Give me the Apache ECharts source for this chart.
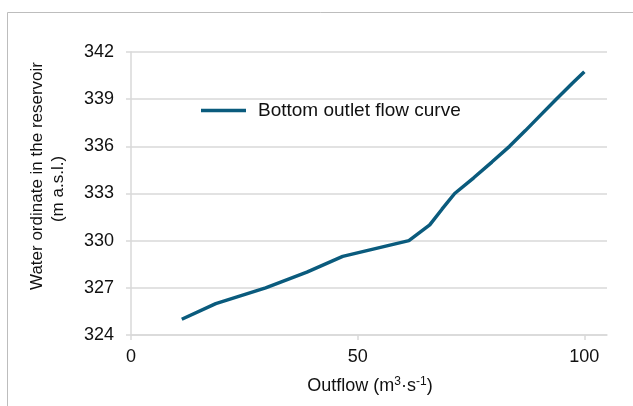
<!DOCTYPE html>
<html>
<head>
<meta charset="utf-8">
<script src="https://cdn.jsdelivr.net/npm/echarts@6/dist/echarts.min.js"></script>
<style>html,body{margin:0;padding:0;background:#fff}#c{width:633px;height:406px}</style>
</head>
<body>
<div id="c"></div>
<script>
const seriesName = 'Bottom outlet flow curve';
const outflow = [11.2, 18.7, 29.7, 38.8, 46.7, 61.3, 65.9, 68.6, 71.4, 75.6, 79.6, 83.5, 87.0, 90.4, 93.8, 97.3, 100.0];
const level   = [325, 326, 327, 328, 329, 330, 331, 332, 333, 334, 335, 336, 337, 338, 339, 340, 340.75];
const xTicks = [0, 50, 100];
const yTitle1 = 'Water ordinate in the reservoir';
const yTitle2 = '(m a.s.l.)';

const font = 'Liberation Sans, Arial, sans-serif';
const lineColor = '#0A5B7D';
const gridColor = '#d9d9d9';

const chart = echarts.init(document.getElementById('c'), null, {renderer: 'canvas'});
chart.setOption({
  animation: false,
  backgroundColor: '#fff',
  grid: {left: 131, top: 52, right: 26, bottom: 71, containLabel: false},
  legend: {
    left: 196, top: 96,
    itemWidth: 45, itemHeight: 3.5,
    textStyle: {fontFamily: font, fontSize: 19, color: '#111', padding: [0, 0, 0, 7]},
    data: [{name: seriesName, icon: 'rect', itemStyle: {color: lineColor}}]
  },
  xAxis: {
    type: 'value', min: 0, max: 105, interval: 50,
    axisLine: {show: true, lineStyle: {color: gridColor, width: 1.5}},
    axisTick: {show: true, length: 5, lineStyle: {color: gridColor, width: 1.5}, customValues: xTicks},
    axisLabel: {fontFamily: font, fontSize: 18, color: '#111', margin: 13, customValues: xTicks},
    splitLine: {show: false}
  },
  yAxis: {
    type: 'value', min: 324, max: 342, interval: 3,
    axisLine: {show: true, lineStyle: {color: gridColor, width: 1.5}},
    axisTick: {show: true, length: 5, lineStyle: {color: gridColor, width: 1.5}},
    axisLabel: {fontFamily: font, fontSize: 18, color: '#111', margin: 17},
    splitLine: {show: true, lineStyle: {color: gridColor, width: 1.5}}
  },
  series: [{
    name: seriesName,
    type: 'line',
    symbol: 'none',
    lineStyle: {color: lineColor, width: 3.5},
    itemStyle: {color: lineColor},
    data: outflow.map((x, i) => [x, level[i]])
  }],
  graphic: [
    {type: 'rect', shape: {x: 7.5, y: 12.5, width: 700, height: 500}, style: {fill: 'none', stroke: '#bdbdbd', lineWidth: 1}, silent: true, z: -1},
    {type: 'text', x: 37, y: 176, rotation: Math.PI / 2,
     style: {text: yTitle1, font: '17px ' + font, fill: '#111', align: 'center', verticalAlign: 'middle'}},
    {type: 'text', x: 58, y: 189, rotation: Math.PI / 2,
     style: {text: yTitle2, font: '17px ' + font, fill: '#111', align: 'center', verticalAlign: 'middle'}},
    {type: 'text', x: 370, y: 386,
     style: {
       text: '{a|Outflow (m}{s|3}{a|·s}{s|-1}{a|)}',
       align: 'center', verticalAlign: 'middle',
       rich: {
         a: {fontFamily: font, fontSize: 18, fill: '#111', color: '#111'},
         s: {fontFamily: font, fontSize: 12, fill: '#111', color: '#111', verticalAlign: 'top', padding: [0, 0, 8, 0]}
       }
     }}
  ]
});
</script>
</body>
</html>
